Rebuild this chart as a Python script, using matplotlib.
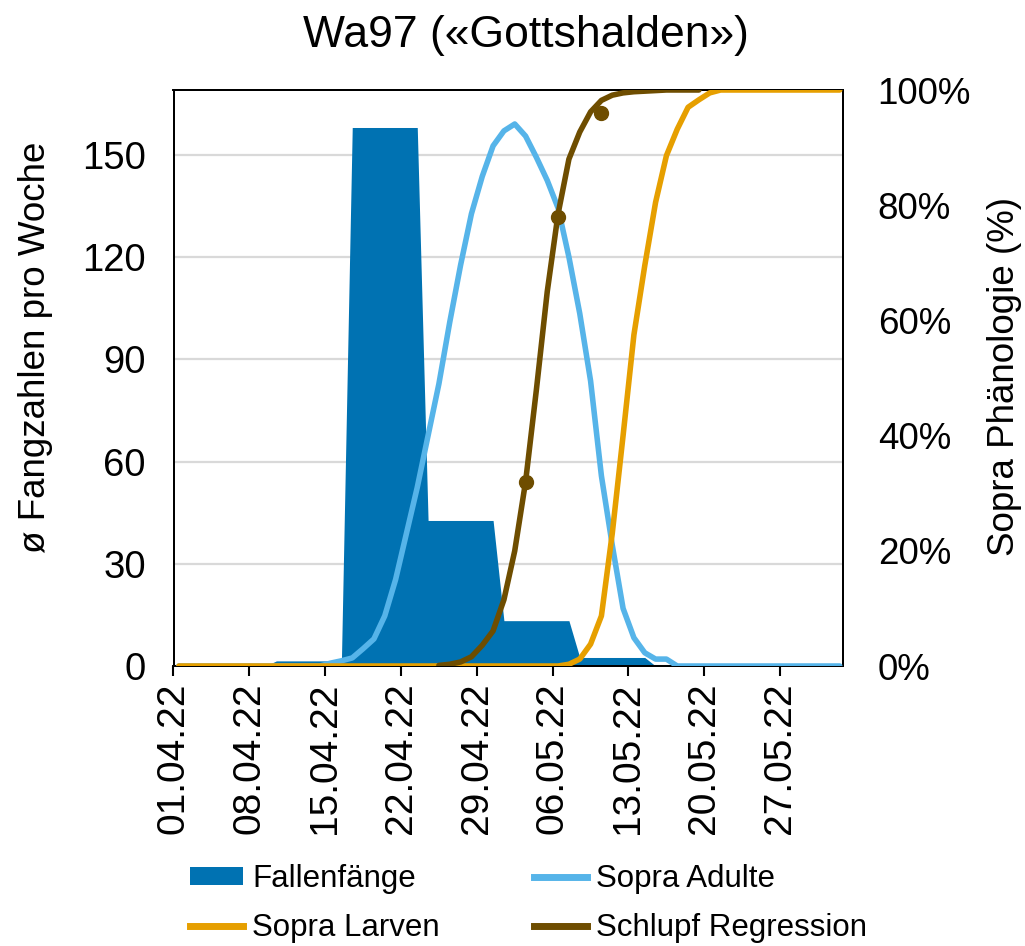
import matplotlib
matplotlib.use("Agg")
import matplotlib.pyplot as plt
import matplotlib.dates as mdates
from matplotlib.patches import Patch
from matplotlib.lines import Line2D
from matplotlib.ticker import PercentFormatter
import numpy as np
import pandas as pd

plt.rcParams['font.family'] = ['Liberation Sans', 'DejaVu Sans']

# Daten (01.04.22 - 01.06.22, tageweise)
start = pd.Timestamp("2022-04-01")
tage = pd.date_range(start, periods=62, freq="D")
x = tage + pd.Timedelta(hours=12)

# mittlere Fangzahlen pro Woche (Falle), tageweise
fallen = ([0] * 9 + [1.5] * 7 + [158] * 7 + [42.7] * 7 + [13.3] * 7
          + [2.5] * 7 + [0] * 18)

# Sopra Adulte (%)
sopra_adulte = ([0] * 14
                + [0.5, 0.9, 1.4, 3.0, 4.7, 8.7, 15, 23, 31, 40, 49, 59.7,
                   69.6, 78.5, 85, 90.3, 92.9, 94.1, 92, 88.3, 84.3, 79.5,
                   71, 61.2, 49.5, 33, 21, 10, 4.9, 2.3, 1.2, 1.2]
                + [0] * 16)

# Sopra Larven (%)
sopra_larven = ([0] * 36
                + [0.3, 1.2, 3.8, 8.7, 23, 40, 57.5, 69.5, 80.5, 88.6,
                   93.2, 97, 98.3, 99.5]
                + [100] * 12)

# Schlupf Regression (%)
schlupf = ([np.nan] * 24
           + [0.1, 0.3, 0.7, 1.6, 3.6, 6.1, 11.5, 20, 32, 48, 65, 78.5,
              88, 92.7, 96.2, 98.2, 99.1, 99.5, 99.7, 99.8, 99.9, 100,
              100, 100, 100]
           + [np.nan] * 13)

# beobachteter Schlupf
schlupf_beob_tage = pd.to_datetime(["2022-05-03", "2022-05-06", "2022-05-10"])
schlupf_beob = [32, 78, 96]

c_fallen = "#0072B2"
c_adulte = "#56B4E9"
c_larven = "#E69F00"
c_schlupf = "#6E4D00"

fig = plt.figure(figsize=(10.25, 9.46), dpi=100)
ax = fig.add_axes([173.5 / 1025, 1 - 666 / 946, (843 - 173.5) / 1025, (666 - 90) / 946])
ax2 = ax.twinx()

ax.fill_between(x, fallen, color=c_fallen, lw=0, zorder=2)
ax.set_ylim(0, 169)
ax.set_yticks([0, 30, 60, 90, 120, 150])
ax.yaxis.grid(True, color="#D9D9D9", lw=1.6, zorder=0)
ax.set_axisbelow(True)

kw = dict(lw=4.0, solid_capstyle="round", solid_joinstyle="round")
ax2.plot(x, sopra_adulte, color=c_adulte, zorder=3, **kw)
ax2.plot(x, sopra_larven, color=c_larven, zorder=4, **kw)
ax2.plot(x, schlupf, color=c_schlupf, zorder=5, **kw)
ax2.plot(schlupf_beob_tage + pd.Timedelta(hours=12), schlupf_beob, "o",
         color=c_schlupf, ms=10, zorder=6)
ax2.set_ylim(0, 100)
ax2.set_yticks([0, 20, 40, 60, 80, 100])
ax2.yaxis.set_major_formatter(PercentFormatter(decimals=0))

ax.set_xlim(start, start + pd.Timedelta(days=61.8))
ax.set_xticks(pd.date_range(start, periods=9, freq="7D"))
ax.xaxis.set_major_formatter(mdates.DateFormatter("%d.%m.%y"))
ax.tick_params(axis="x", direction="out", length=7, width=1.5, pad=5,
               labelsize=28, labelrotation=90)
ax.tick_params(axis="y", length=0, pad=20, labelsize=27.5)
ax2.tick_params(axis="y", length=0, pad=25, labelsize=26.5)

for a in (ax, ax2):
    for s in a.spines.values():
        s.set_linewidth(1.4)
        s.set_color("black")

fig.text(526 / 1025, 1 - 47 / 946, "Wa97 («Gottshalden»)", ha="center",
         va="baseline", fontsize=32)
fig.text(36 / 1025, 1 - 347 / 946, "ø Fangzahlen pro Woche", rotation=90,
         ha="center", va="center", fontsize=26.5)
fig.text(1005 / 1025, 1 - 377 / 946, "Sopra Phänologie (%)", rotation=90,
         ha="center", va="center", fontsize=26.5)

handles = [
    Patch(facecolor=c_fallen, edgecolor="none"),
    Line2D([], [], color=c_larven, lw=5),
    Line2D([], [], color=c_adulte, lw=5),
    Line2D([], [], color=c_schlupf, lw=5),
]
labels = ["Fallenfänge", "Sopra Larven", "Sopra Adulte", "Schlupf Regression"]
fig.legend(handles, labels, ncol=2, loc="upper left",
           bbox_to_anchor=(190 / 1025, 1 - 864 / 946), frameon=False,
           fontsize=22.5, handlelength=1.7, handleheight=0.55,
           handletextpad=0.3, columnspacing=3.0, labelspacing=0.62,
           borderpad=0, borderaxespad=0)

fig.savefig("out.png", dpi=100)
